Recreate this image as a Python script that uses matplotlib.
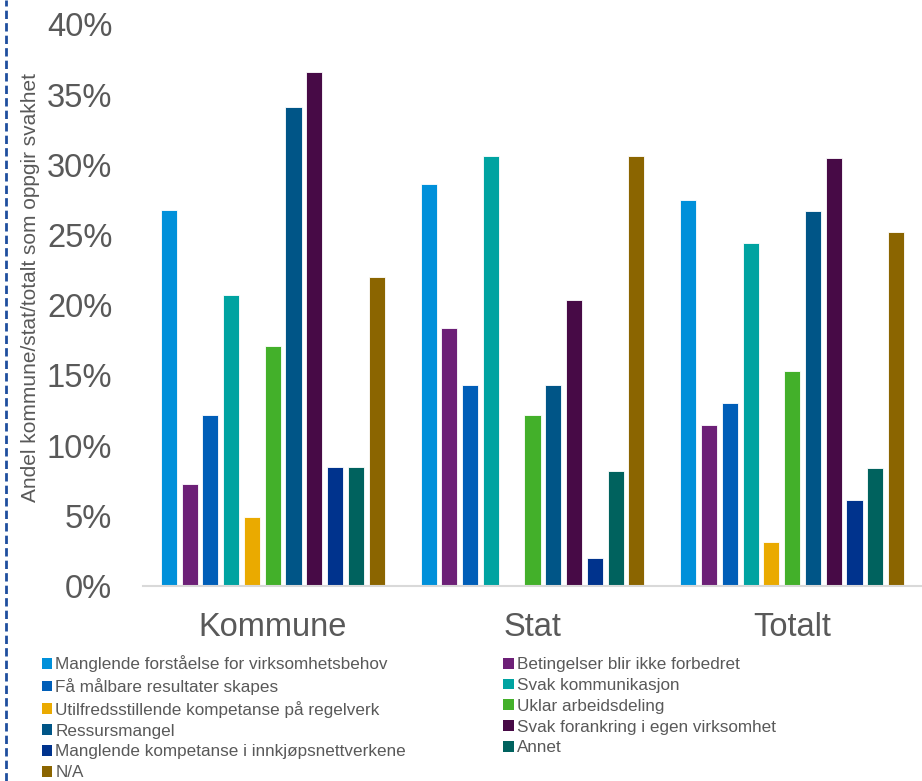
import numpy as np
import matplotlib
matplotlib.use("Agg")
import matplotlib.pyplot as plt
from matplotlib.lines import Line2D
from matplotlib.patches import Patch

plt.rcParams['font.family'] = ['Liberation Sans', 'DejaVu Sans']

groups = ["Kommune", "Stat", "Totalt"]
reasons = [
    "Manglende forståelse for virksomhetsbehov",
    "Betingelser blir ikke forbedret",
    "Få målbare resultater skapes",
    "Svak kommunikasjon",
    "Utilfredsstillende kompetanse på regelverk",
    "Uklar arbeidsdeling",
    "Ressursmangel",
    "Svak forankring i egen virksomhet",
    "Manglende kompetanse i innkjøpsnettverkene",
    "Annet",
    "N/A",
]
# share (%) per reason, in the order Kommune, Stat, Totalt
kommune = [26.8, 7.3, 12.2, 20.7, 4.9, 17.1, 34.1, 36.6, 8.5, 8.5, 22.0]
stat = [28.6, 18.4, 14.3, 30.6, 0.0, 12.2, 14.3, 20.4, 2.0, 8.2, 30.6]
totalt = [27.5, 11.5, 13.0, 24.4, 3.1, 15.3, 26.7, 30.5, 6.1, 8.4, 25.2]
colors = ["#0090DA", "#6D2077", "#005EB8", "#00A3A1", "#EAAA00", "#43B02A",
          "#005587", "#470A46", "#00338D", "#00625E", "#8B6500"]

values = np.array([kommune, stat, totalt])

fig = plt.figure(figsize=(9.22, 7.81), dpi=100)
ax = fig.add_axes([0.155, 0.2497, 0.845, 0.719])

x = np.arange(len(groups))
step = 0.08
width = 0.062
n = len(reasons)
for j in range(n):
    ax.bar(x + (j - (n - 1) / 2) * step, values[:, j], width=width,
           color=colors[j], edgecolor="white", linewidth=0.6, label=reasons[j])

ax.set_xlim(-0.5, 2.5)
ax.set_ylim(0, 40)
ax.set_yticks(np.arange(0, 41, 5))
ax.set_yticklabels([f"{v}%" for v in range(0, 41, 5)])
ax.set_xticks(x)
ax.set_xticklabels(groups)
ax.tick_params(axis="y", length=0, pad=22, labelsize=23.5, labelcolor="#595959")
ax.tick_params(axis="x", length=0, pad=19, labelsize=23.5, labelcolor="#595959")
for s in ["top", "right", "left"]:
    ax.spines[s].set_visible(False)
ax.spines["bottom"].set_color("#D9D9D9")
ax.spines["bottom"].set_linewidth(1.5)

fig.text(0.033, 0.6325, "Andel kommune/stat/totalt som oppgir svakhet", rotation=90,
         ha="center", va="center", fontsize=15, color="#595959")

# legend laid out row by row in two columns
order = [0, 2, 4, 6, 8, 10, 1, 3, 5, 7, 9]
handles = [Patch(facecolor=colors[i], edgecolor="none") for i in order]
labels = [reasons[i] for i in order]
fig.legend(handles, labels, ncol=2, loc="upper left", bbox_to_anchor=(0.0455, 0.161),
           frameon=False, fontsize=12.3, labelcolor="#595959", handlelength=0.6,
           handleheight=0.6, handletextpad=0.18, columnspacing=5.7, labelspacing=0.34,
           borderaxespad=0, borderpad=0)

fig.add_artist(Line2D([0.0065, 0.0065], [0, 1], transform=fig.transFigure,
                      color="#1F4E9E", linewidth=2, linestyle=(0, (3, 1.5))))

fig.savefig("out.png", dpi=100)
